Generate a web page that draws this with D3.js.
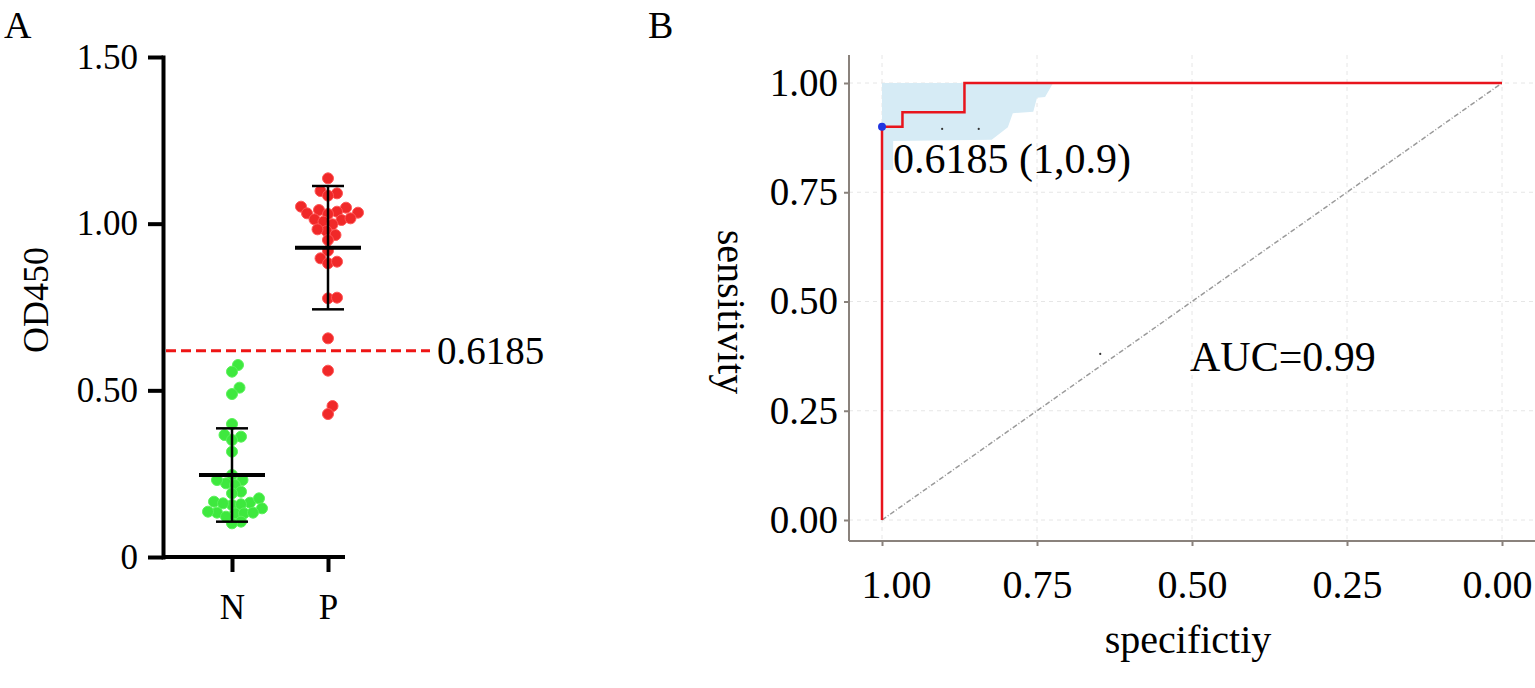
<!DOCTYPE html>
<html lang="en">
<head>
<meta charset="UTF-8">
<title>OD450 scatter and ROC</title>
<script src="https://d3js.org/d3.v7.min.js"></script>
<style>
  body { margin: 0; background: #fff; }
  svg { display: block; font-family: "Liberation Serif", "Times New Roman", serif; }
</style>
</head>
<body>
<svg width="1535" height="688"></svg>
<script>
// ---- panel A data ----
const groups = ["N", "P"];
const nValues = [0.576, 0.556, 0.508, 0.489, 0.399, 0.366, 0.361, 0.351, 0.316, 0.246,
                 0.221, 0.231, 0.231, 0.216, 0.196, 0.191, 0.163, 0.156, 0.166, 0.161,
                 0.176, 0.158, 0.146, 0.133, 0.131, 0.136, 0.131, 0.133, 0.106, 0.101, 0.121];
const pValues = [1.136, 1.098, 1.091, 1.084, 1.041, 1.048, 1.051, 1.036, 1.031, 1.029,
                 1.033, 1.013, 1.011, 1.016, 1.006, 0.998, 0.978, 0.983, 0.966, 0.951,
                 0.919, 0.896, 0.881, 0.886, 0.776, 0.778, 0.656, 0.559, 0.453, 0.429];
const groupMean = [0.246, 0.928];
const groupSD = [0.140, 0.185];
const cutoff = 0.6185;
const odTicks = [0, 0.5, 1.0, 1.5];
const odTickLabels = ["0", "0.50", "1.00", "1.50"];

// ---- panel B data ----
const rocSpec = [1, 1, 0.967, 0.967, 0.867, 0.867, 0];
const rocSens = [0, 0.9, 0.9, 0.933, 0.933, 1, 1];
const bandSpec = [1, 0.724, 0.737, 0.75, 0.756, 0.789, 0.797, 0.823, 0.982, 0.982, 1];
const bandSens = [1, 1, 0.968, 0.966, 0.934, 0.931, 0.899, 0.87, 0.867, 0.801, 0.801];
const bestPoint = [1, 0.9];
const strayDots = [[0.903, 0.895], [0.844, 0.895], [0.648, 0.38]];
const rocTicks = [0, 0.25, 0.5, 0.75, 1];
const rocTickLabels = ["0.00", "0.25", "0.50", "0.75", "1.00"];
const aucLabel = "AUC=0.99";
const bestLabel = "0.6185 (1,0.9)";

const svg = d3.select("svg");

// ================= Panel A =================
const gA = svg.append("g");
const yA = d3.scaleLinear().domain([0, 1.5]).range([557, 57]);
const xA = d3.scalePoint().domain(groups).range([232, 328]);
const ptR = 5.5;

// simple beeswarm placement
function swarm(values, cx) {
  const placed = [];
  const order = values.map((v, i) => i).sort((a, b) => values[a] - values[b]);
  const out = new Array(values.length);
  order.forEach(i => {
    const y = yA(values[i]);
    let best = null;
    for (let k = 0; k < 40 && best === null; k++) {
      const cands = k === 0 ? [0] : [k * 1.5, -k * 1.5];
      for (const dx of cands) {
        const x = cx + dx;
        if (placed.every(p => (p[0] - x) ** 2 + (p[1] - y) ** 2 >= (2 * ptR * 0.8) ** 2)) { best = x; break; }
      }
    }
    placed.push([best, y]);
    out[i] = [best, y];
  });
  return out;
}

const colorsA = { N: { fill: "#3ee83e", stroke: "#5af25a" }, P: { fill: "#f02828", stroke: "#ff5555" } };
[[nValues, "N"], [pValues, "P"]].forEach(([vals, gname]) => {
  const pts = swarm(vals, xA(gname));
  gA.append("g").selectAll("circle").data(pts).join("circle")
    .attr("cx", d => d[0]).attr("cy", d => d[1]).attr("r", ptR)
    .attr("fill", colorsA[gname].fill).attr("stroke", colorsA[gname].stroke).attr("stroke-width", 1);
});

// mean and SD bars
groups.forEach((gname, i) => {
  const cx = xA(gname);
  const eg = gA.append("g").attr("stroke", "#000");
  eg.append("line").attr("x1", cx).attr("x2", cx)
    .attr("y1", yA(groupMean[i] - groupSD[i])).attr("y2", yA(groupMean[i] + groupSD[i])).attr("stroke-width", 2.5);
  [groupMean[i] - groupSD[i], groupMean[i] + groupSD[i]].forEach(v => {
    eg.append("line").attr("x1", cx - 16).attr("x2", cx + 16)
      .attr("y1", yA(v)).attr("y2", yA(v)).attr("stroke-width", 2.5);
  });
  eg.append("line").attr("x1", cx - 33).attr("x2", cx + 33)
    .attr("y1", yA(groupMean[i])).attr("y2", yA(groupMean[i])).attr("stroke-width", 4);
});

// cutoff line
gA.append("line").attr("x1", 166).attr("x2", 430)
  .attr("y1", yA(cutoff)).attr("y2", yA(cutoff))
  .attr("stroke", "#ee1515").attr("stroke-width", 3).attr("stroke-dasharray", "10,5");
gA.append("text").attr("x", 437).attr("y", yA(cutoff)).attr("dy", "0.35em")
  .attr("font-size", 39).text(cutoff.toString());

// axes
const yAxisA = gA.append("g").attr("transform", "translate(163,0)")
  .call(d3.axisLeft(yA).tickValues(odTicks).tickFormat((d, i) => odTickLabels[i]).tickSize(15).tickSizeOuter(0).tickPadding(10));
const xAxisA = gA.append("g").attr("transform", "translate(0,557)")
  .call(d3.axisBottom(xA).tickSize(15).tickSizeOuter(0).tickPadding(22));
xAxisA.select(".domain").attr("d", "M163,0H345");
[yAxisA, xAxisA].forEach(ax => {
  ax.selectAll("path, line").attr("stroke", "#000").attr("stroke-width", 4);
  ax.selectAll("text").attr("font-family", "Liberation Serif").attr("font-size", 35).attr("fill", "#000");
});
yAxisA.select(".domain").attr("stroke-linecap", "square");

gA.append("text").attr("transform", "translate(48,300) rotate(-90)")
  .attr("text-anchor", "middle").attr("font-size", 36).text("OD450");
svg.append("text").attr("x", 4).attr("y", 38).attr("font-size", 38).text("A");

// ================= Panel B =================
const gB = svg.append("g");
const xB = d3.scaleLinear().domain([1, 0]).range([882, 1502]);
const yB = d3.scaleLinear().domain([0, 1]).range([520, 83]);
const plotL = 849, plotB = 541, plotT = 55, plotR = 1535;

// grid
const grid = gB.append("g").attr("stroke", "#e6e6e6").attr("stroke-width", 1).attr("stroke-dasharray", "4,4");
grid.selectAll(".gx").data(rocTicks).join("line")
  .attr("x1", d => xB(d)).attr("x2", d => xB(d)).attr("y1", plotT).attr("y2", plotB);
grid.selectAll(".gy").data(rocTicks).join("line")
  .attr("y1", d => yB(d)).attr("y2", d => yB(d)).attr("x1", plotL).attr("x2", plotR);

// confidence band
const pathLine = d3.line().x(d => xB(d[0])).y(d => yB(d[1]));
gB.append("path").datum(d3.zip(bandSpec, bandSens))
  .attr("d", d => pathLine(d) + "Z").attr("fill", "#d6ebf5").attr("stroke", "none");

// diagonal reference
gB.append("path").datum([[1, 0], [0, 1]]).attr("d", pathLine)
  .attr("fill", "none").attr("stroke", "#9a9a9a").attr("stroke-width", 1.5).attr("stroke-dasharray", "5,2,1,2");

// ROC curve
gB.append("path").datum(d3.zip(rocSpec, rocSens)).attr("d", pathLine)
  .attr("fill", "none").attr("stroke", "#e8141c").attr("stroke-width", 2.5);

gB.selectAll(".stray").data(strayDots).join("circle")
  .attr("cx", d => xB(d[0])).attr("cy", d => yB(d[1])).attr("r", 1.1).attr("fill", "#333");

gB.append("circle").attr("cx", xB(bestPoint[0])).attr("cy", yB(bestPoint[1])).attr("r", 4)
  .attr("fill", "#2035e0");
gB.append("text").attr("x", 893).attr("y", 173).attr("font-size", 42).text(bestLabel);
gB.append("text").attr("x", 1190).attr("y", 371).attr("font-size", 42).text(aucLabel);

// axes
const yAxisB = gB.append("g").attr("transform", `translate(${plotL},0)`)
  .call(d3.axisLeft(yB).tickValues(rocTicks).tickFormat((d, i) => rocTickLabels[i]).tickSize(5).tickSizeOuter(0).tickPadding(6));
yAxisB.select(".domain").attr("d", `M0,${plotT}V${plotB}`);
const xAxisB = gB.append("g").attr("transform", `translate(0,${plotB})`)
  .call(d3.axisBottom(xB).tickValues(rocTicks).tickFormat((d, i) => rocTickLabels[i]).tickSize(5).tickSizeOuter(0).tickPadding(24));
xAxisB.select(".domain").attr("d", `M${plotL},0H${plotR}`);
[yAxisB, xAxisB].forEach(ax => {
  ax.selectAll("path, line").attr("stroke", "#8a827c").attr("stroke-width", 2);
  ax.selectAll("text").attr("font-family", "Liberation Serif").attr("font-size", 39).attr("fill", "#000");
});
xAxisB.selectAll("text").attr("font-size", 40);
xAxisB.selectAll(".tick").filter(d => d === 1).select("text").attr("dx", 14);
xAxisB.selectAll(".tick").filter(d => d === 0).select("text").attr("dx", -5);

gB.append("text").attr("transform", "translate(718,312) rotate(90)")
  .attr("text-anchor", "middle").attr("font-size", 40).text("sensitivity");
gB.append("text").attr("x", 1188).attr("y", 653).attr("text-anchor", "middle")
  .attr("font-size", 40).text("specifictiy");
svg.append("text").attr("x", 648).attr("y", 38).attr("font-size", 38).text("B");
</script>
</body>
</html>
